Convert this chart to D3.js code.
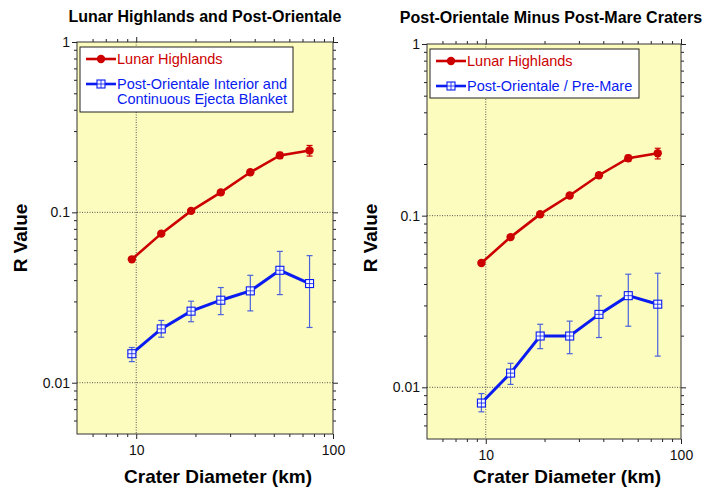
<!DOCTYPE html>
<html>
<head>
<meta charset="utf-8">
<script src="https://cdn.jsdelivr.net/npm/d3@7"></script>
<style>
  body { margin: 0; background: #fff; }
  svg { font-family: "Liberation Sans", Arial, Helvetica, sans-serif; }
</style>
</head>
<body>
<div class="chart"></div>
<script>
// crater diameter bin centres (km)
const diameters = [9.5, 13.4, 19, 26.9, 38, 53.7, 76];

// Lunar highlands R values (same in both panels)
const highlandsR = [0.053, 0.075, 0.102, 0.131, 0.172, 0.216, 0.231];
const highlandsLo = [0.053, 0.075, 0.102, 0.131, 0.172, 0.207, 0.214];
const highlandsHi = [0.053, 0.075, 0.102, 0.131, 0.172, 0.225, 0.247];

// left panel: Post-Orientale interior and continuous ejecta blanket
const postOrientaleR = [0.0148, 0.0207, 0.0263, 0.0305, 0.0346, 0.0457, 0.0382];
const postOrientaleLo = [0.0133, 0.0185, 0.0228, 0.0251, 0.0264, 0.0329, 0.0211];
const postOrientaleHi = [0.0161, 0.0232, 0.0301, 0.0362, 0.0427, 0.059, 0.0557];

// right panel: Post-Orientale / Pre-Mare
const preMareR = [0.0081, 0.0121, 0.0199, 0.0199, 0.0266, 0.0342, 0.0305];
const preMareLo = [0.0072, 0.0104, 0.0168, 0.0157, 0.0195, 0.0227, 0.0152];
const preMareHi = [0.0092, 0.0138, 0.0233, 0.0243, 0.0341, 0.0456, 0.0462];

const xMajor = [10, 100];
const xMinor = [6, 7, 8, 9, 20, 30, 40, 50, 60, 70, 80, 90];
const yMajor = [0.01, 0.1, 1];
const yMinor = [0.006, 0.007, 0.008, 0.009, 0.02, 0.03, 0.04, 0.05, 0.06, 0.07, 0.08, 0.09,
                0.2, 0.3, 0.4, 0.5, 0.6, 0.7, 0.8, 0.9];

const RED = "#cc0000", BLUE = "#0a1cf0", BLUE_ERR = "#4a63dc";

const svg = d3.select(".chart").append("svg")
    .attr("width", 707).attr("height", 493);

function plotPanel(box, title, blueLabel, blueR, blueLo, blueHi, legendH) {
    const g = svg.append("g");
    const x = d3.scaleLog().domain([5, 100]).range([box.left, box.right]);
    const y = d3.scaleLog().domain([0.005, 1]).range([box.bottom, box.top]);

    // plot area
    g.append("rect")
        .attr("x", box.left).attr("y", box.top)
        .attr("width", box.right - box.left).attr("height", box.bottom - box.top)
        .attr("fill", "#fdfcbf");

    // dotted grid at decades
    g.selectAll(".vgrid").data([10]).join("line")
        .attr("x1", d => x(d)).attr("x2", d => x(d))
        .attr("y1", box.top).attr("y2", box.bottom)
        .attr("stroke", "#555").attr("stroke-dasharray", "1,1.5");
    g.selectAll(".hgrid").data([0.01, 0.1]).join("line")
        .attr("x1", box.left).attr("x2", box.right)
        .attr("y1", d => y(d)).attr("y2", d => y(d))
        .attr("stroke", "#555").attr("stroke-dasharray", "1,1.5");

    // axes: ticks point outward on all sides
    const styleAxis = sel => {
        sel.select(".domain").remove();
        sel.selectAll(".tick line").attr("stroke", "#222");
        sel.selectAll("text").attr("fill", "#111").style("font-size", "14px");
    };
    const noLabel = () => "";

    [[d3.axisBottom, box.bottom, true], [d3.axisTop, box.top, false]].forEach(([ax, pos, lab]) => {
        g.append("g").attr("transform", "translate(0," + pos + ")")
            .call(ax(x).tickValues(xMajor).tickSize(5).tickPadding(6).tickFormat(lab ? d3.format("d") : noLabel))
            .call(styleAxis);
        g.append("g").attr("transform", "translate(0," + pos + ")")
            .call(ax(x).tickValues(xMinor).tickSize(3).tickFormat(noLabel))
            .call(styleAxis);
    });
    [[d3.axisLeft, box.left, true], [d3.axisRight, box.right, false]].forEach(([ax, pos, lab]) => {
        g.append("g").attr("transform", "translate(" + pos + ",0)")
            .call(ax(y).tickValues(yMajor).tickSize(5).tickPadding(2).tickFormat(lab ? (d => String(d)) : noLabel))
            .call(styleAxis);
        g.append("g").attr("transform", "translate(" + pos + ",0)")
            .call(ax(y).tickValues(yMinor).tickSize(3).tickFormat(noLabel))
            .call(styleAxis);
    });

    // plot frame
    g.append("rect")
        .attr("x", box.left).attr("y", box.top)
        .attr("width", box.right - box.left).attr("height", box.bottom - box.top)
        .attr("fill", "none").attr("stroke", "#333").attr("stroke-width", 1);

    const line = d3.line().x((d, i) => x(diameters[i])).y(d => y(d));

    // Lunar highlands series
    const redErr = diameters.map((d, i) => ({x: d, lo: highlandsLo[i], hi: highlandsHi[i]}))
        .filter(d => d.hi > d.lo);
    g.selectAll(".rerr").data(redErr).join("line")
        .attr("x1", d => x(d.x)).attr("x2", d => x(d.x))
        .attr("y1", d => y(d.lo)).attr("y2", d => y(d.hi))
        .attr("stroke", RED).attr("stroke-width", 1.2);
    redErr.forEach(d => {
        [d.lo, d.hi].forEach(v => g.append("line")
            .attr("x1", x(d.x) - 3).attr("x2", x(d.x) + 3)
            .attr("y1", y(v)).attr("y2", y(v))
            .attr("stroke", RED).attr("stroke-width", 1.2));
    });
    g.append("path").datum(highlandsR).attr("d", line)
        .attr("fill", "none").attr("stroke", RED).attr("stroke-width", 2.6);
    g.selectAll(".rdot").data(highlandsR).join("circle")
        .attr("cx", (d, i) => x(diameters[i])).attr("cy", d => y(d)).attr("r", 4.2)
        .attr("fill", RED);

    // blue series with error bars
    const blueErr = diameters.map((d, i) => ({x: d, lo: blueLo[i], hi: blueHi[i]}));
    g.selectAll(".berr").data(blueErr).join("line")
        .attr("x1", d => x(d.x)).attr("x2", d => x(d.x))
        .attr("y1", d => y(d.lo)).attr("y2", d => y(d.hi))
        .attr("stroke", BLUE_ERR).attr("stroke-width", 1.2);
    blueErr.forEach(d => {
        [d.lo, d.hi].forEach(v => g.append("line")
            .attr("x1", x(d.x) - 3).attr("x2", x(d.x) + 3)
            .attr("y1", y(v)).attr("y2", y(v))
            .attr("stroke", BLUE_ERR).attr("stroke-width", 1.2));
    });
    g.append("path").datum(blueR).attr("d", line)
        .attr("fill", "none").attr("stroke", BLUE).attr("stroke-width", 3);
    blueR.forEach((d, i) => drawSquare(g, x(diameters[i]), y(d)));

    // legend
    const lx = box.left + 3, ly = box.top + 5, lw = box.legendW;
    g.append("rect").attr("x", lx).attr("y", ly).attr("width", lw).attr("height", legendH)
        .attr("fill", "#fff").attr("stroke", "#222").attr("stroke-width", 1);
    const r1 = ly + 12;
    g.append("line").attr("x1", lx + 6).attr("x2", lx + 36).attr("y1", r1).attr("y2", r1)
        .attr("stroke", RED).attr("stroke-width", 2.6);
    g.append("circle").attr("cx", lx + 21).attr("cy", r1).attr("r", 4.2).attr("fill", RED);
    g.append("text").attr("x", lx + 37).attr("y", r1 + 5).attr("fill", RED)
        .style("font-size", "14.5px").text("Lunar Highlands");
    const r2 = ly + 37;
    g.append("line").attr("x1", lx + 6).attr("x2", lx + 36).attr("y1", r2).attr("y2", r2)
        .attr("stroke", BLUE).attr("stroke-width", 2.6);
    drawSquare(g, lx + 21, r2);
    blueLabel.forEach((t, k) => g.append("text").attr("x", lx + 37).attr("y", r2 + 5 + k * 15)
        .attr("fill", BLUE).style("font-size", "14.5px").text(t));

    // titles
    svg.append("text").attr("x", box.titleX).attr("y", box.titleY)
        .attr("text-anchor", "middle").style("font-weight", "bold").style("font-size", "16px")
        .text(title);
    svg.append("text").attr("x", (box.left + box.right) / 2 + 13).attr("y", 483)
        .attr("text-anchor", "middle").style("font-weight", "bold").style("font-size", "19px")
        .text("Crater Diameter (km)");
    svg.append("text")
        .attr("transform", "translate(" + (box.left - 50) + "," + 238 + ") rotate(-90)")
        .attr("text-anchor", "middle").style("font-weight", "bold").style("font-size", "19px")
        .text("R Value");
}

function drawSquare(g, cx, cy) {
    const s = 4;
    g.append("rect").attr("x", cx - s).attr("y", cy - s).attr("width", 2 * s).attr("height", 2 * s)
        .attr("fill", "#f4f6ff").attr("stroke", BLUE).attr("stroke-width", 1.1);
    g.append("line").attr("x1", cx - s).attr("x2", cx + s).attr("y1", cy).attr("y2", cy)
        .attr("stroke", BLUE).attr("stroke-width", 0.8);
    g.append("line").attr("x1", cx).attr("x2", cx).attr("y1", cy - s).attr("y2", cy + s)
        .attr("stroke", BLUE).attr("stroke-width", 0.8);
}

plotPanel({left: 77, right: 333, top: 42, bottom: 434, legendW: 213, titleX: 205, titleY: 22},
    "Lunar Highlands and Post-Orientale",
    ["Post-Orientale Interior and", "Continuous Ejecta Blanket"],
    postOrientaleR, postOrientaleLo, postOrientaleHi, 65);

plotPanel({left: 427, right: 681, top: 44, bottom: 439, legendW: 209, titleX: 551, titleY: 23},
    "Post-Orientale Minus Post-Mare Craters",
    ["Post-Orientale / Pre-Mare"],
    preMareR, preMareLo, preMareHi, 49);
</script>
</body>
</html>
